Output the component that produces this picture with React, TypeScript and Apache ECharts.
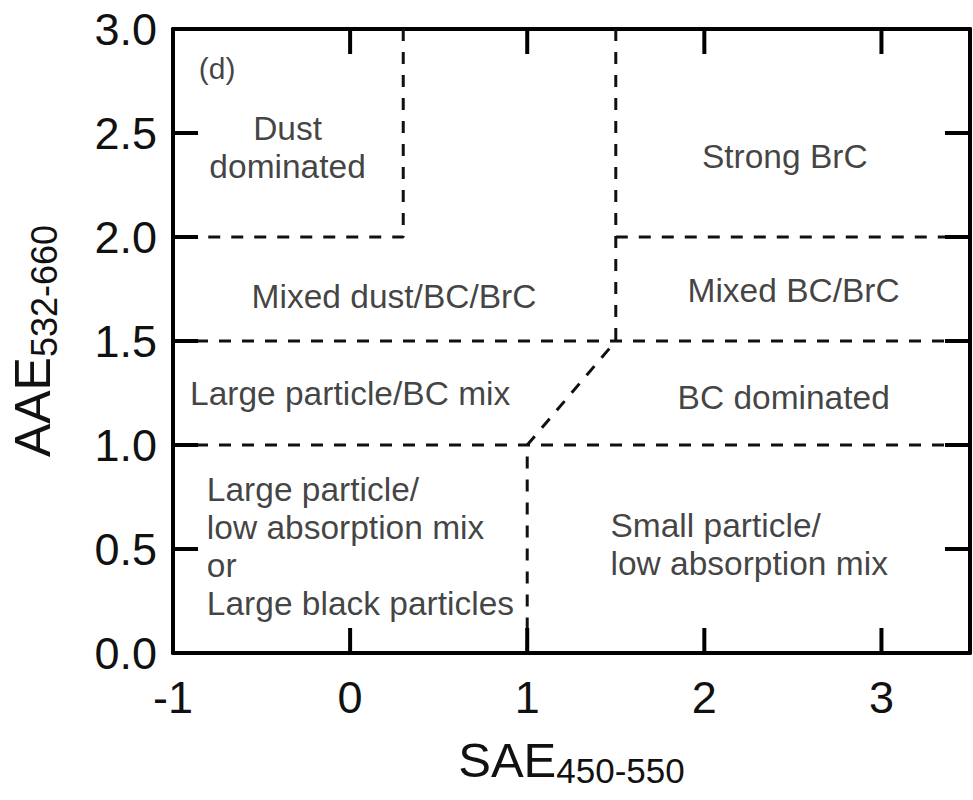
import React, { useEffect, useRef } from "react";
import * as echarts from "echarts";

const X_MIN = -1;
const X_MAX = 3.5;
const Y_MIN = 0;
const Y_MAX = 3;

// Tick positions (drawn inward on all four edges)
const xTicks: number[] = [0, 1, 2, 3];
const yTicks: number[] = [0.5, 1, 1.5, 2, 2.5];

// Boundary segments (dashed), in data coordinates
const segDust: number[][] = [[0.3, 3], [0.3, 2], [-1, 2]];
const segCenter: number[][] = [[1.5, 3], [1.5, 1.5], [1, 1], [1, 0]];
const segBrC: number[][] = [[1.5, 2], [3.5, 2]];
const segY15: number[][] = [[-1, 1.5], [3.5, 1.5]];
const segY10: number[][] = [[-1, 1], [3.5, 1]];

// Region labels
const labelText: string[] = [
  "(d)",
  "Dust\ndominated",
  "Strong BrC",
  "Mixed dust/BC/BrC",
  "Mixed BC/BrC",
  "Large particle/BC mix",
  "BC dominated",
  "Large particle/\nlow absorption mix\nor\nLarge black particles",
  "Small particle/\nlow absorption mix",
];
const labelX: number[] = [-0.854, -0.353, 2.454, 0.248, 2.504, 0.0, 2.448, -0.809, 1.47];
const labelY: number[] = [2.808, 2.431, 2.389, 1.712, 1.741, 1.25, 1.226, 0.514, 0.524];
const labelAlign: string[] = ["left", "center", "center", "center", "center", "center", "center", "left", "left"];
const labelSize: number[] = [30, 33.5, 33.5, 33.5, 33.5, 33.5, 33.5, 33.5, 33.5];

const FONT = "'Liberation Sans', Arial, Helvetica, sans-serif";
const INK = "#000";
const TL = 25; // tick length in px
const TW = 4; // tick width in px

export default function App() {
  const ref = useRef<HTMLDivElement>(null);
  useEffect(() => {
    if (!ref.current) return;
    const chart = echarts.init(ref.current, undefined, { renderer: "svg" });
    const mkLine = (d: number[][]) => ({
      type: "line",
      data: d,
      showSymbol: false,
      symbol: "none",
      lineStyle: { color: "#111", width: 3, type: [12, 11] },
      silent: true,
      z: 2,
    });
    const tickData = [...xTicks.map((v) => [0, v]), ...yTicks.map((v) => [1, v])];
    const hiddenAxis = (pos: string, isX: boolean) => ({
      type: "value",
      min: isX ? X_MIN : Y_MIN,
      max: isX ? X_MAX : Y_MAX,
      interval: isX ? 1 : 0.5,
      position: pos,
      splitLine: { show: false },
      axisLine: { show: true, onZero: false, lineStyle: { color: INK, width: 4 } },
      axisTick: { show: false },
      axisLabel: { show: false },
    });
    chart.setOption({
      animation: false,
      backgroundColor: "#fff",
      grid: { left: 171, right: 3, top: 29, bottom: 147, containLabel: false },
      xAxis: [
        {
          type: "value",
          min: X_MIN,
          max: X_MAX,
          interval: 1,
          position: "bottom",
          splitLine: { show: false },
          axisLine: { show: true, onZero: false, lineStyle: { color: INK, width: 4 } },
          axisTick: { show: false },
          axisLabel: {
            fontSize: 45,
            color: "#111",
            fontFamily: FONT,
            margin: 22,
            showMaxLabel: false,
            formatter: (v: number) => (v > 3.2 ? "" : String(v)),
          },
          name: "{a|SAE}{b|450-550}",
          nameLocation: "middle",
          nameGap: 78,
          nameTextStyle: {
            color: "#111",
            fontFamily: FONT,
            rich: {
              a: { fontSize: 49, fontFamily: FONT, color: "#111" },
              b: { fontSize: 35, fontFamily: FONT, color: "#111", padding: [22, 0, 0, 0] },
            },
          },
        },
        hiddenAxis("top", true),
      ],
      yAxis: [
        {
          type: "value",
          min: Y_MIN,
          max: Y_MAX,
          interval: 0.5,
          position: "left",
          splitLine: { show: false },
          axisLine: { show: true, onZero: false, lineStyle: { color: INK, width: 4 } },
          axisTick: { show: false },
          axisLabel: {
            fontSize: 45,
            color: "#111",
            fontFamily: FONT,
            margin: 16,
            formatter: (v: number) => v.toFixed(1),
          },
          name: "{a|AAE}{b|532-660}",
          nameLocation: "middle",
          nameRotate: 90,
          nameGap: 111,
          nameTextStyle: {
            color: "#111",
            fontFamily: FONT,
            rich: {
              a: { fontSize: 50, fontFamily: FONT, color: "#111" },
              b: { fontSize: 36, fontFamily: FONT, color: "#111", padding: [22, 0, 0, 0] },
            },
          },
        },
        hiddenAxis("right", false),
      ],
      series: [
        mkLine(segDust),
        mkLine(segCenter),
        mkLine(segBrC),
        mkLine(segY15),
        mkLine(segY10),
        {
          type: "custom",
          silent: true,
          clip: false,
          z: 10,
          data: tickData,
          renderItem: (_params: any, api: any) => {
            const kind = api.value(0);
            const v = api.value(1);
            const st = { fill: INK };
            if (kind === 0) {
              const b = api.coord([v, Y_MIN]);
              const t = api.coord([v, Y_MAX]);
              return {
                type: "group",
                children: [
                  { type: "rect", shape: { x: b[0] - TW / 2, y: b[1] - TL, width: TW, height: TL }, style: st },
                  { type: "rect", shape: { x: t[0] - TW / 2, y: t[1], width: TW, height: TL }, style: st },
                ],
              };
            }
            const l = api.coord([X_MIN, v]);
            const r = api.coord([X_MAX, v]);
            return {
              type: "group",
              children: [
                { type: "rect", shape: { x: l[0], y: l[1] - TW / 2, width: TL, height: TW }, style: st },
                { type: "rect", shape: { x: r[0] - TL, y: r[1] - TW / 2, width: TL, height: TW }, style: st },
              ],
            };
          },
        },
        {
          type: "scatter",
          symbolSize: 1,
          itemStyle: { color: "rgba(0,0,0,0)" },
          silent: true,
          z: 3,
          data: labelText.map((t, i) => ({
            value: [labelX[i], labelY[i]],
            name: t,
            label: {
              show: true,
              position: "inside",
              formatter: t,
              align: labelAlign[i],
              verticalAlign: "middle",
              fontSize: labelSize[i],
              lineHeight: 38,
              color: "#111",
              fontFamily: FONT,
            },
          })),
        },
      ],
    });
    return () => chart.dispose();
  }, []);
  return (
    <div
      ref={ref}
      style={{ position: "fixed", left: 0, top: 0, width: 973, height: 800, background: "#fff" }}
    />
  );
}
